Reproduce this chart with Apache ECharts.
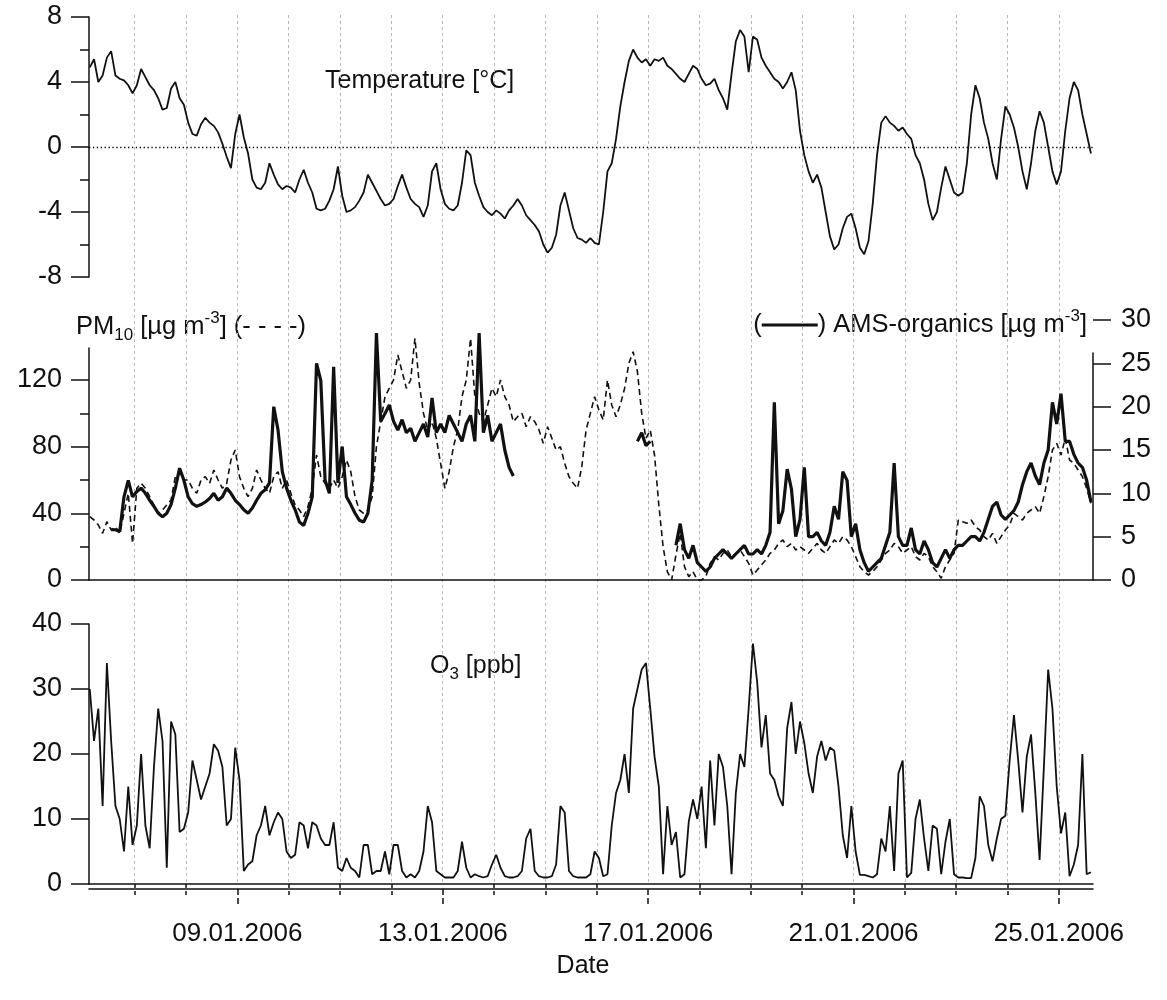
<!DOCTYPE html>
<html>
<head>
<meta charset="utf-8">
<script src="https://cdn.jsdelivr.net/npm/echarts@6.0.0/dist/echarts.min.js"></script>
<style>
  html, body { margin: 0; padding: 0; background: #fff; }
  #chart { width: 1167px; height: 1000px; }
</style>
</head>
<body>
<div id="chart"></div>
<script>
// Time base: days after 06.01.2006 00:00; every series is two-hourly from 06.01.2006 03:00
const startDay = 0.125;
const stepDay = 2 / 24;
const axisStartDay = 0.11;
const axisEndDay = 19.665;

// Day gridlines / ticks and the dated tick labels
const dayTicks = [1, 2, 3, 4, 5, 6, 7, 8, 9, 10, 11, 12, 13, 14, 15, 16, 17, 18, 19];
const labelDays = [3, 7, 11, 15, 19];
const dateLabels = ['09.01.2006', '13.01.2006', '17.01.2006', '21.01.2006', '25.01.2006'];
const minorDays = dayTicks.filter(d => labelDays.indexOf(d) < 0);

// Tick values for the left PM10 axis
const pmMajorTicks = [0, 40, 80, 120];
const pmMinorTicks = [20, 60, 100];

// Air temperature [°C]
const temperature = [
  4.9, 5.4, 4.0, 4.4, 5.5, 5.9, 4.4, 4.2, 4.1, 3.8, 3.3, 3.8,
  4.8, 4.3, 3.8, 3.5, 3.0, 2.3, 2.4, 3.6, 4.0, 3.0, 2.6, 1.5,
  0.8, 0.7, 1.4, 1.8, 1.5, 1.3, 0.9, 0.2, -0.6, -1.3, 0.8, 2.0,
  0.6, -0.4, -2.0, -2.5, -2.6, -2.2, -1.0, -1.7, -2.3, -2.6, -2.4, -2.5,
  -2.8, -2.0, -1.4, -2.2, -2.8, -3.8, -3.9, -3.8, -3.3, -2.6, -1.2, -3.0,
  -4.0, -3.9, -3.7, -3.3, -2.8, -1.7, -2.2, -2.7, -3.2, -3.6, -3.5, -3.2,
  -2.4, -1.7, -2.5, -3.2, -3.5, -3.7, -4.3, -3.6, -1.5, -1.0, -2.6, -3.5,
  -3.8, -3.9, -3.6, -2.2, -0.2, -0.5, -2.2, -3.0, -3.7, -4.0, -4.2, -3.9,
  -4.1, -4.4, -3.9, -3.6, -3.2, -3.6, -4.2, -4.5, -4.8, -5.2, -6.0, -6.5,
  -6.2, -5.4, -3.6, -2.8, -3.9, -5.0, -5.6, -5.7, -5.9, -5.6, -5.9, -6.0,
  -4.0, -1.5, -1.0, 0.5, 2.5, 4.0, 5.3, 6.0, 5.5, 5.2, 5.4, 5.0,
  5.4, 5.3, 5.5, 5.0, 4.8, 4.5, 4.2, 4.0, 4.5, 5.0, 4.8, 4.2,
  3.8, 3.9, 4.2, 3.5, 3.0, 2.3, 4.5, 6.5, 7.2, 6.8, 4.6, 6.8,
  6.6, 5.5, 5.0, 4.6, 4.2, 4.0, 3.6, 4.0, 4.6, 3.5, 1.0, -0.5,
  -1.5, -2.2, -1.7, -2.5, -4.0, -5.5, -6.3, -6.0, -5.0, -4.3, -4.1, -5.0,
  -6.2, -6.6, -5.8, -3.5, -0.5, 1.5, 1.9, 1.5, 1.3, 1.0, 1.2, 0.8,
  0.5, -0.5, -1.0, -2.0, -3.5, -4.5, -4.0, -2.5, -1.2, -2.0, -2.8, -3.0,
  -2.8, -1.0, 2.0, 3.8, 3.0, 1.5, 0.5, -1.0, -2.0, 0.5, 2.5, 2.0,
  1.2, 0.0, -1.5, -2.6, -1.0, 1.0, 2.2, 1.5, 0.0, -1.5, -2.3, -1.5,
  1.0, 3.0, 4.0, 3.5, 2.0, 0.8, -0.4
];

// PM10 mass concentration [µg m-3], left axis
const pm10 = [
  38, 36, 33, 28, 35, 30, 32, 28, 40, 52, 22, 55,
  58, 55, 50, 45, 40, 42, 45, 48, 62, 65, 60, 60,
  55, 52, 60, 62, 58, 66, 60, 55, 58, 72, 78, 62,
  55, 50, 55, 66, 60, 55, 52, 62, 65, 55, 60, 52,
  45, 42, 38, 44, 55, 75, 62, 58, 55, 60, 55, 62,
  72, 65, 50, 42, 40, 42, 50, 80, 95, 110, 115, 120,
  135, 125, 115, 120, 145, 118, 100, 90, 95, 85, 70, 55,
  65, 80, 90, 110, 120, 145, 110, 100, 95, 105, 115, 110,
  120, 110, 105, 95, 98, 100, 92, 98, 95, 90, 82, 92,
  85, 78, 80, 70, 62, 58, 55, 68, 90, 100, 110, 102,
  96, 120, 105, 98, 105, 115, 130, 137, 125, 100, 85, 90,
  75, 45, 20, 5, 0, 15, 28, 8, 2, 5, 0, 0,
  2, 10, 14, 12, 16, 18, 14, 16, 18, 14, 10, 3,
  6, 9, 12, 16, 18, 22, 24, 20, 22, 18, 20, 18,
  16, 19, 22, 18, 16, 20, 24, 22, 26, 24, 20, 14,
  8, 5, 3, 5, 8, 12, 16, 18, 22, 20, 16, 18,
  20, 14, 12, 16, 14, 8, 5, 1, 8, 12, 16, 36,
  35, 34, 36, 32, 30, 26, 24, 28, 22, 26, 30, 33,
  40, 38, 36, 40, 42, 44, 40, 50, 62, 78, 82, 75,
  85, 72, 70, 66, 62, 55, 46
];

// AMS organics [µg m-3], right axis (null = no measurement)
const amsOrganics = [
  null, null, null, null, null, 5.8, 5.8, 5.6, 9.6, 11.5, 9.6, 10.2,
  10.6, 10, 9.2, 8.5, 7.7, 7.3, 7.7, 8.7, 10.6, 12.9, 11.5, 9.6,
  8.8, 8.5, 8.7, 9, 9.4, 10, 9.2, 9.6, 10.6, 10, 9.2, 8.7,
  8.1, 7.7, 8.3, 9.2, 10, 10.4, 11.2, 20, 17.3, 12.5, 10.6, 9.2,
  8.1, 6.7, 6.3, 7.7, 9.6, 25, 23, 11.5, 10, 24.6, 11.2, 15.4,
  9.6, 8.7, 7.7, 6.9, 6.7, 7.7, 11.5, 28.5, 18.3, 19.2, 20.2, 18.3,
  17.3, 18.5, 17, 17.5, 16, 17, 18, 16.5, 21, 17, 18, 17,
  19, 18, 17, 16, 18, 19, 16, 28.5, 17, 19, 16, 17,
  18, 15, 13, 12, null, null, null, null, null, null, null, null,
  null, null, null, null, null, null, null, null, null, null, null, null,
  null, null, null, null, null, null, null, null, 16, 17, 15.5, 16,
  null, null, null, null, null, 4, 6.5, 3.5, 2.5, 4, 2, 1.5,
  1, 1.5, 2.5, 3, 3.5, 3, 2.5, 3, 3.5, 4, 3, 3,
  3.5, 3, 4, 5.5, 20.5, 6.5, 8, 12.8, 10.5, 5, 7, 13,
  5, 5, 5.5, 4.5, 4, 5.5, 8.5, 7, 12.5, 11.5, 5, 6.5,
  3.5, 2, 1, 1.5, 2, 2.5, 4, 5.5, 13.5, 5, 4, 4,
  6, 3.5, 3, 4.5, 3.5, 2, 1.5, 2.5, 3.5, 2.5, 3.5, 4,
  4, 4.5, 5, 5, 4.5, 5.5, 7, 8.5, 9, 7.5, 7, 7.5,
  8, 9, 11, 12.5, 13.5, 12, 11, 13.5, 15, 20.5, 18, 21.5,
  16, 16, 14.5, 13.5, 13, 11.5, 9
];

// Ozone [ppb]
const ozone = [
  30, 22, 27, 12, 34, 22, 12, 10, 5, 15, 6, 9,
  20, 9, 5.5, 18, 27, 22, 2.5, 25, 23, 8, 8.5, 11,
  19, 16, 13, 15, 17, 21.5, 20.5, 18, 9, 10, 21, 16,
  2, 3, 3.5, 7.5, 9, 12, 7.5, 9.5, 11, 10, 5, 4,
  4.5, 9.5, 9, 5.5, 9.5, 9, 7, 6, 6, 9.5, 2.5, 2,
  4, 2.5, 2, 1, 6, 6, 1.5, 2, 2, 5, 1.5, 6,
  6, 2, 1, 1.5, 1, 2, 5, 12, 9.5, 2, 1.5, 1,
  1, 1, 2, 6.5, 2.5, 1, 1.5, 1.2, 1, 1.2, 3, 4.5,
  2.5, 1.2, 1, 1, 1.2, 2, 7, 8.5, 2, 1.2, 1, 1,
  1.2, 3, 12, 11, 2, 1.2, 1, 1, 1, 1.5, 5, 4,
  1.2, 1.5, 9, 14, 16, 20, 14, 27, 30, 33, 34, 27,
  19.6, 15, 1.5, 12, 6, 8, 1, 1.5, 9.6, 13, 10, 15,
  5.5, 19, 9, 20, 18, 12, 1.5, 14, 20, 18, 27, 37,
  31, 21, 26, 17, 16, 13.5, 12, 24, 28, 20, 25, 21.7,
  17, 14, 19.6, 22, 19, 21, 20.5, 15, 7.5, 4, 12, 5,
  1.4, 1.4, 1.2, 1, 1.5, 7, 5, 12, 2, 17, 19, 1,
  1.7, 10, 13, 7, 2, 9, 8.5, 1.5, 6.5, 10, 1.5, 1,
  1, 0.9, 0.9, 4, 13.5, 12, 6, 3.5, 7, 10, 10.5, 19,
  26, 19, 11, 19.6, 23, 14, 3.7, 18, 33, 27, 15, 7.8,
  11, 1.2, 3, 6, 20, 1.5, 1.8
];

const ink = '#111';
const font = "'Liberation Sans', Arial, Helvetica, sans-serif";
const tickFont = 27;

function timeSeries(values) {
  return values.map((v, i) => [startDay + i * stepDay, v]);
}

const spine = { show: true, onZero: false, lineStyle: { color: ink, width: 1.5 } };
const tickStyle = { color: ink, width: 1.5 };
const labelStyle = { color: ink, fontSize: tickFont, fontFamily: font };
const noSplit = { show: false };

function hiddenX(gridIndex) {
  return { gridIndex, type: 'value', min: axisStartDay, max: axisEndDay, show: false };
}

const chart = echarts.init(document.getElementById('chart'), null, { renderer: 'canvas' });

chart.setOption({
  animation: false,
  backgroundColor: '#fff',
  grid: [
    { left: 89, right: 74, top: 15, bottom: 116 },   // 0: day gridlines through all panels
    { left: 89, right: 74, top: 17, height: 260 },   // 1: temperature
    { left: 89, right: 74, top: 348, height: 232 },  // 2: PM10
    { left: 89, right: 74, top: 320, height: 260 },  // 3: AMS organics
    { left: 89, right: 74, top: 624, height: 260 },  // 4: ozone
    { left: 89, width: 10, top: 348, height: 232 },  // 5: PM10 minor ticks
    { left: 1083, width: 10, top: 353, height: 227 } // 6: right frame line of the middle panel
  ],
  xAxis: [
    {
      gridIndex: 0, type: 'value', min: axisStartDay, max: axisEndDay,
      axisLine: { show: false },
      axisTick: { show: false, customValues: dayTicks },
      axisLabel: { show: false },
      splitLine: { show: true, lineStyle: { color: '#b8b8b8', width: 1, type: [3, 3] } }
    },
    hiddenX(1),
    {
      gridIndex: 2, type: 'value', min: axisStartDay, max: axisEndDay,
      axisLine: spine, axisTick: { show: false }, axisLabel: { show: false }, splitLine: noSplit
    },
    hiddenX(3),
    {
      gridIndex: 4, type: 'value', min: axisStartDay, max: axisEndDay,
      axisLine: spine, axisTick: { show: false }, axisLabel: { show: false }, splitLine: noSplit
    },
    {
      gridIndex: 4, type: 'value', position: 'bottom', offset: 5,
      min: axisStartDay, max: axisEndDay,
      axisLine: spine,
      axisTick: { show: true, customValues: labelDays, length: 18, lineStyle: { color: ink, width: 1.5, type: [6, 3] } },
      axisLabel: {
        customValues: labelDays,
        formatter: v => dateLabels[labelDays.indexOf(Math.round(v))] || '',
        color: ink, fontSize: 26, fontFamily: font, margin: 32
      },
      splitLine: noSplit
    },
    {
      gridIndex: 4, type: 'value', position: 'bottom', offset: 5,
      min: axisStartDay, max: axisEndDay,
      axisLine: { show: false },
      axisTick: { show: true, customValues: minorDays, length: 11, lineStyle: { color: ink, width: 1.5, type: [4, 3] } },
      axisLabel: { show: false },
      splitLine: noSplit
    },
    { gridIndex: 5, type: 'value', min: 0, max: 1, show: false },
    { gridIndex: 6, type: 'value', min: 0, max: 1, show: false }
  ],
  yAxis: [
    { gridIndex: 0, type: 'value', min: 0, max: 1, show: false },
    {
      gridIndex: 1, type: 'value', position: 'left', min: -8, max: 8, interval: 4,
      axisLine: spine,
      axisTick: { length: 18, lineStyle: tickStyle },
      minorTick: { show: true, splitNumber: 2, length: 9, lineStyle: tickStyle },
      axisLabel: Object.assign({ margin: 27 }, labelStyle),
      splitLine: noSplit
    },
    {
      gridIndex: 2, type: 'value', position: 'left', min: 0, max: 139.2,
      axisLine: spine,
      axisTick: { customValues: pmMajorTicks, length: 18, lineStyle: tickStyle },
      axisLabel: Object.assign({ customValues: pmMajorTicks, margin: 27 }, labelStyle),
      splitLine: noSplit
    },
    {
      gridIndex: 3, type: 'value', position: 'right', min: 0, max: 30, interval: 5,
      axisLine: { show: false, onZero: false },
      axisTick: { show: true, length: 18, lineStyle: tickStyle },
      axisLabel: Object.assign({ margin: 28 }, labelStyle),
      splitLine: noSplit
    },
    {
      gridIndex: 4, type: 'value', position: 'left', min: 0, max: 40, interval: 10,
      axisLine: spine,
      axisTick: { length: 18, lineStyle: tickStyle },
      axisLabel: Object.assign({ margin: 27 }, labelStyle),
      splitLine: noSplit
    },
    {
      gridIndex: 5, type: 'value', position: 'left', min: 0, max: 139.2,
      axisLine: { show: false, onZero: false },
      axisTick: { customValues: pmMinorTicks, length: 9, lineStyle: tickStyle },
      axisLabel: { show: false },
      splitLine: noSplit
    },
    {
      gridIndex: 6, type: 'value', position: 'right', min: 0, max: 1,
      axisLine: spine, axisTick: { show: false }, minorTick: { show: false },
      axisLabel: { show: false }, splitLine: noSplit
    }
  ],
  series: [
    {
      name: 'Temperature', type: 'line', xAxisIndex: 1, yAxisIndex: 1,
      data: timeSeries(temperature), symbol: 'none',
      lineStyle: { color: ink, width: 1.8 },
      markLine: {
        silent: true, symbol: ['none', 'none'], label: { show: false },
        lineStyle: { color: '#000', width: 1.3, type: [1.3, 2.6] },
        data: [{ yAxis: 0 }]
      }
    },
    {
      name: 'PM10', type: 'line', xAxisIndex: 2, yAxisIndex: 2,
      data: timeSeries(pm10), symbol: 'none', clip: false,
      lineStyle: { color: ink, width: 1.6, type: [6, 4] }
    },
    {
      name: 'AMS-organics', type: 'line', xAxisIndex: 3, yAxisIndex: 3,
      data: timeSeries(amsOrganics), symbol: 'none', connectNulls: false,
      lineStyle: { color: ink, width: 3.2 }
    },
    {
      name: 'O3', type: 'line', xAxisIndex: 4, yAxisIndex: 4,
      data: timeSeries(ozone), symbol: 'none',
      lineStyle: { color: ink, width: 1.8 }
    }
  ],
  graphic: [
    {
      type: 'text', x: 325, y: 81,
      style: { text: 'Temperature [°C]', fill: ink, font: '25px ' + font, verticalAlign: 'middle' }
    },
    {
      type: 'text', x: 76, y: 327,
      style: {
        text: '{t|PM}{s|10}{t| [µg m}{u|-3}{t|] (- - - -)}',
        fill: ink, fontFamily: font, verticalAlign: 'middle',
        rich: {
          t: { fontSize: 25.5, lineHeight: 34, fontFamily: font, fill: ink },
          s: { fontSize: 17, lineHeight: 17, verticalAlign: 'bottom', fontFamily: font, fill: ink },
          u: { fontSize: 17, lineHeight: 17, verticalAlign: 'top', fontFamily: font, fill: ink }
        }
      }
    },
    {
      type: 'text', x: 1087, y: 325,
      style: {
        text: '{t|(}{l| }{t|) AMS-organics [µg m}{u|-3}{t|]}',
        fill: ink, fontFamily: font, align: 'right', verticalAlign: 'middle',
        rich: {
          t: { fontSize: 25.5, lineHeight: 34, fontFamily: font, fill: ink },
          l: { width: 56, height: 3, lineHeight: 3, backgroundColor: ink, fontSize: 3 },
          u: { fontSize: 17, lineHeight: 17, verticalAlign: 'top', fontFamily: font, fill: ink }
        }
      }
    },
    {
      type: 'text', x: 430, y: 666,
      style: {
        text: '{t|O}{s|3}{t| [ppb]}',
        fill: ink, fontFamily: font, verticalAlign: 'middle',
        rich: {
          t: { fontSize: 25, lineHeight: 34, fontFamily: font, fill: ink },
          s: { fontSize: 17, lineHeight: 17, verticalAlign: 'bottom', fontFamily: font, fill: ink }
        }
      }
    },
    {
      type: 'text', x: 583, y: 966,
      style: { text: 'Date', fill: ink, font: '25px ' + font, align: 'center', verticalAlign: 'middle' }
    }
  ]
});
</script>
</body>
</html>
